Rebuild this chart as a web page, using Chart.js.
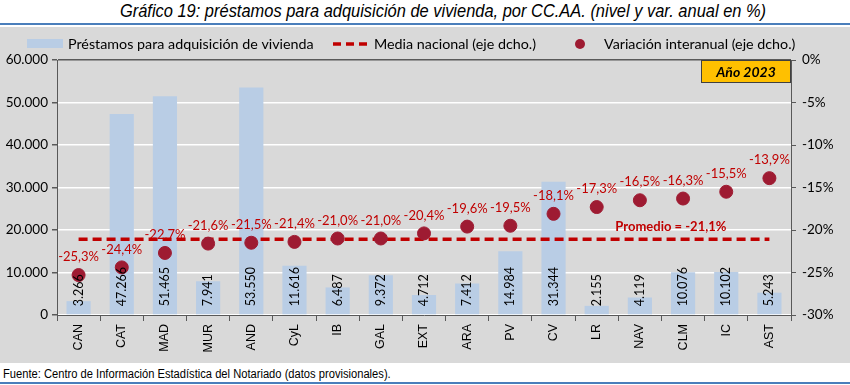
<!DOCTYPE html>
<html>
<head>
<meta charset="utf-8">
<script src="https://cdn.jsdelivr.net/npm/chart.js@4"></script>
<style>
  body { margin: 0; width: 850px; height: 385px; background: #fff; position: relative; overflow: hidden; }
  .title { position: absolute; top: 0px; left: 18px; width: 850px; text-align: center; white-space: nowrap;
    font-family: "Liberation Sans", Arial, sans-serif; font-style: italic; font-size: 19px; color: #000;
    transform: scaleX(0.865); transform-origin: 425px 0; }
  .rule { position: absolute; left: 0; width: 850px; height: 2px; background: #4A7EBB; }
  .panel { position: absolute; top: 27px; left: 0; width: 850px; height: 336px; background: #D9D9D9; }
  .source { position: absolute; top: 367px; left: 3px; white-space: nowrap;
    font-family: "Liberation Sans", Arial, sans-serif; font-size: 12px; color: #000;
    transform: scaleX(0.93); transform-origin: 0 0; }
</style>
</head>
<body>
<div class="title">Gráfico 19: préstamos para adquisición de vivienda, por CC.AA. (nivel y var. anual en %)</div>
<div class="rule" style="top:23px"></div>
<div class="panel"><canvas id="chart" width="850" height="336"></canvas></div>
<div class="source">Fuente: Centro de Información Estadística del Notariado (datos provisionales).</div>
<div class="rule" style="top:382px"></div>

<script>
let regions = ['CAN', 'CAT', 'MAD', 'MUR', 'AND', 'CyL', 'IB', 'GAL', 'EXT',
               'ARA', 'PV', 'CV', 'LR', 'NAV', 'CLM', 'IC', 'AST'];

let loans = [3266, 47266, 51465, 7941, 53550, 11616, 6487, 9372, 4712,
             7412, 14984, 31344, 2155, 4119, 10076, 10102, 5243];

let yearlyChange = [-25.3, -24.4, -22.7, -21.6, -21.5, -21.4, -21.0, -21.0, -20.4,
                    -19.6, -19.5, -18.1, -17.3, -16.5, -16.3, -15.5, -13.9];

let nationalAverage = -21.1;

let legendLabels = [
    'Préstamos para adquisición de vivienda',
    'Media nacional (eje dcho.)',
    'Variación interanual (eje dcho.)'
];

const BAR_COLOR = '#B9CDE5';
const DASH_COLOR = '#C00000';
const DOT_COLOR = '#9E1B32';
const LABEL_COLOR = '#C00000';
const AXIS_COLOR = '#595959';
const FONT = 'Lato, "Open Sans", sans-serif';

function thousands(v) {
    return String(v).replace(/\B(?=(\d{3})+(?!\d))/g, '.');
}

function pct(v) {
    return v.toFixed(1).replace('.', ',') + '%';
}

// labels, legend, "Año 2023" box and the average note
let extrasPlugin = {
    id: 'extras',
    afterDatasetsDraw: function(chart) {
        let ctx = chart.ctx;
        let x = chart.scales.x;
        let yR = chart.scales.y1;

        // variation labels above the dots
        ctx.save();
        ctx.fillStyle = LABEL_COLOR;
        ctx.font = '13px ' + FONT;
        ctx.textAlign = 'center';
        ctx.textBaseline = 'middle';
        chart.getDatasetMeta(2).data.forEach(function(pt, i) {
            ctx.fillText(pct(yearlyChange[i]), pt.x, pt.y - 18);
        });
        ctx.restore();

        // vertical values inside the bars
        ctx.save();
        ctx.fillStyle = '#000';
        ctx.font = '12.5px ' + FONT;
        ctx.textAlign = 'left';
        ctx.textBaseline = 'middle';
        chart.getDatasetMeta(0).data.forEach(function(bar, i) {
            ctx.save();
            ctx.translate(bar.x, bar.base - 8);
            ctx.rotate(-Math.PI / 2);
            ctx.fillText(thousands(loans[i]), 0, 0);
            ctx.restore();
        });
        ctx.restore();

        // average note
        ctx.save();
        ctx.fillStyle = LABEL_COLOR;
        ctx.font = 'bold 13px ' + FONT;
        ctx.textAlign = 'center';
        ctx.textBaseline = 'middle';
        ctx.fillText('Promedio = ' + pct(nationalAverage),
            x.getPixelForValue(13) + 31, yR.getPixelForValue(nationalAverage) - 13);
        ctx.restore();

        // year box
        let area = chart.chartArea;
        ctx.save();
        ctx.fillStyle = '#FFC000';
        ctx.strokeStyle = '#404040';
        ctx.lineWidth = 1;
        ctx.fillRect(area.right - 90, area.top, 90, 23);
        ctx.strokeRect(area.right - 89.5, area.top + 0.5, 89, 22);
        ctx.fillStyle = '#000';
        ctx.font = 'italic bold 14px ' + FONT;
        ctx.textAlign = 'center';
        ctx.textBaseline = 'middle';
        ctx.fillText('Año 2023', area.right - 45, area.top + 12);
        ctx.restore();

        // legend
        ctx.save();
        ctx.font = '14.3px ' + FONT;
        ctx.textBaseline = 'middle';
        ctx.fillStyle = BAR_COLOR;
        ctx.fillRect(27, 12, 36, 9);
        ctx.fillStyle = '#000';
        ctx.fillText(legendLabels[0], 68, 17);
        ctx.strokeStyle = DASH_COLOR;
        ctx.lineWidth = 3.5;
        ctx.setLineDash([8, 5]);
        ctx.beginPath();
        ctx.moveTo(333, 17);
        ctx.lineTo(367, 17);
        ctx.stroke();
        ctx.setLineDash([]);
        ctx.fillText(legendLabels[1], 374, 17);
        ctx.fillStyle = DOT_COLOR;
        ctx.beginPath();
        ctx.arc(580, 17, 5, 0, Math.PI * 2);
        ctx.fill();
        ctx.fillStyle = '#000';
        ctx.fillText(legendLabels[2], 604, 17);
        ctx.restore();
    }
};

let data = {
    labels: regions,
    datasets: [{
        type: 'bar',
        label: legendLabels[0],
        data: loans,
        backgroundColor: BAR_COLOR,
        yAxisID: 'y',
        categoryPercentage: 1,
        barPercentage: 0.56,
        order: 3
    }, {
        type: 'line',
        label: legendLabels[1],
        data: regions.map(function() { return nationalAverage; }),
        borderColor: DASH_COLOR,
        borderWidth: 3.5,
        borderDash: [9, 5],
        pointRadius: 0,
        fill: false,
        yAxisID: 'y1',
        order: 2
    }, {
        type: 'line',
        label: legendLabels[2],
        data: yearlyChange,
        showLine: false,
        pointRadius: 6.5,
        pointBackgroundColor: DOT_COLOR,
        pointBorderColor: DOT_COLOR,
        yAxisID: 'y1',
        order: 1
    }]
};

let config = {
    type: 'bar',
    data: data,
    options: {
        responsive: false,
        animation: false,
        layout: { padding: { top: 33, left: 0, right: 0, bottom: 0 } },
        plugins: {
            legend: { display: false },
            tooltip: { enabled: false }
        },
        scales: {
            x: {
                offset: true,
                grid: { offset: true, drawOnChartArea: false, color: AXIS_COLOR, tickLength: 6 },
                border: { color: AXIS_COLOR },
                ticks: {
                    minRotation: 90, maxRotation: 90, padding: 3,
                    color: '#000',
                    font: { family: '"Liberation Sans", Arial, sans-serif', size: 12.5 }
                },
                afterFit: function(scale) { scale.height = 48; }
            },
            y: {
                position: 'left',
                min: 0, max: 60000,
                ticks: {
                    stepSize: 10000, color: '#000', padding: 4,
                    font: { family: FONT, size: 13.5 },
                    callback: function(v) { return thousands(v); }
                },
                grid: {
                    color: function(c) { return c.tick && c.tick.value === 60000 ? AXIS_COLOR : '#FFFFFF'; },
                    tickColor: AXIS_COLOR, tickLength: 5, lineWidth: 1.5
                },
                border: { color: AXIS_COLOR },
                afterFit: function(scale) { scale.width = 57; }
            },
            y1: {
                position: 'right',
                min: -30, max: 0,
                ticks: {
                    stepSize: 5, color: '#000', padding: 6,
                    font: { family: FONT, size: 13.5 },
                    callback: function(v) { return v + '%'; }
                },
                grid: { drawOnChartArea: false, color: AXIS_COLOR, tickLength: 5 },
                border: { color: AXIS_COLOR },
                afterFit: function(scale) { scale.width = 59; }
            }
        }
    },
    plugins: [extrasPlugin]
};

new Chart(document.getElementById('chart'), config);
</script>
</body>
</html>
